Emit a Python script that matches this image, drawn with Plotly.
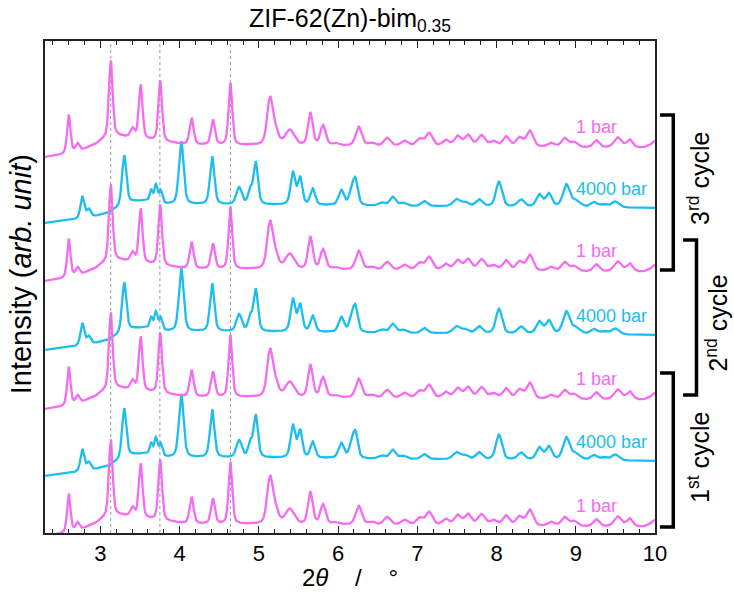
import numpy as np
import plotly.graph_objects as go

# ---- diffraction data: peak lists for the two pressure states ----
# 1 bar pattern: peak centre (2theta, deg), intensity (a.u.), FWHM (deg)
ONE_BAR_POS = [2.60, 2.71, 3.13, 3.405, 3.507, 3.754, 4.15, 4.42, 4.64, 5.14, 5.21,
               5.39, 5.65, 5.81, 5.97, 6.26, 6.42, 6.62, 6.84, 7.03, 7.15, 7.36,
               7.51, 7.64, 7.81, 7.96, 8.12, 8.29, 8.42, 8.69, 8.86, 8.98, 9.26,
               9.53, 9.68, 10.05]
ONE_BAR_INT = [38, 7, 77, 9, 54, 60, 27, 25, 62, 46, 12,
               15, 32, 20, 2, 19, 3, 8, 5, 7, 13, 6,
               10, 11, 11, 5, 10, 9, 16, 4, 9, 5, 7,
               10, 8, 6]
ONE_BAR_FWHM = [0.050, 0.050, 0.055, 0.060, 0.055, 0.055, 0.060, 0.060, 0.055, 0.085, 0.090,
                0.130, 0.070, 0.080, 0.090, 0.090, 0.100, 0.100, 0.110, 0.100, 0.100, 0.100,
                0.100, 0.100, 0.110, 0.100, 0.100, 0.100, 0.100, 0.100, 0.100, 0.100, 0.090,
                0.110, 0.090, 0.150]
# slowly varying background of the 1 bar pattern (2theta, a.u.)
ONE_BAR_BG_X = [2.30, 2.50, 2.80, 2.95, 3.05, 3.20, 3.60, 3.90, 4.10, 9.85, 10.00]
ONE_BAR_BG_Y = [-11, -9, -3, 2, 7, 10, 6, 3, 1, -2, 1]

# 4000 bar pattern
HP_POS = [2.77, 2.85, 3.30, 3.64, 3.70, 3.76, 4.02, 4.41, 4.75, 4.89, 4.96,
          5.43, 5.52, 5.68, 6.04, 6.17, 6.22, 6.55, 6.69, 6.82, 7.09, 7.49,
          7.60, 7.78, 8.03, 8.31, 8.54, 8.66, 8.88, 9.00, 9.23, 9.36, 9.50]
HP_INT = [22, 8, 50, 11, 17, 12, 63, 48, 17, 14, 42,
          32, 27, 16, 15, 14, 24, 3, 9, 3, 5, 7,
          4, 7, 25, 7, 12, 13, 22, 6, 5, 3, 6]
HP_FWHM = [0.055, 0.060, 0.065, 0.045, 0.045, 0.045, 0.070, 0.065, 0.080, 0.060, 0.065,
           0.070, 0.065, 0.070, 0.080, 0.070, 0.070, 0.090, 0.090, 0.090, 0.090, 0.100,
           0.100, 0.100, 0.090, 0.100, 0.090, 0.090, 0.100, 0.130, 0.100, 0.100, 0.110]
HP_BG_X = [2.30, 2.65, 2.95, 3.10, 3.20, 3.40, 3.55, 3.85, 5.30, 6.50, 10.00]
HP_BG_Y = [-17, -14, -10, -7, -3, 4, 5, 1.5, 1, 0, -2]

# stacked patterns, bottom to top
PATTERN_LABELS = ["1 bar", "4000 bar", "1 bar", "4000 bar", "1 bar", "4000 bar", "1 bar"]
PATTERN_OFFSETS = [8, 74, 135, 200, 263, 327, 387]

# reference positions marked with dotted lines
REF_LINES = [3.13, 3.75, 4.64]

# cycle brackets: (label, lower, upper, label centre) in intensity units
CYCLES = [("1<sup>st</sup> cycle", 6, 160, 76),
          ("2<sup>nd</sup> cycle", 138, 293, 210),
          ("3<sup>rd</sup> cycle", 263, 418, 355)]

X_RANGE = [2.3, 10.0]
Y_RANGE = [0, 492]

MAGENTA = "#F76BF2"
CYAN = "#1BBEF0"
FONT = "Liberation Sans, Arial, sans-serif"


def pseudo_voigt(x, centre, height, fwhm, eta=0.4):
    hw = fwhm / 2.0
    u = (x - centre) / hw
    lor = 1.0 / (1.0 + u ** 2)
    gau = np.exp(-np.log(2.0) * u ** 2)
    return height * (eta * lor + (1 - eta) * gau)


def pattern(x, pos, inten, fwhm, bgx, bgy):
    y = np.interp(x, bgx, bgy)
    for c, h, w in zip(pos, inten, fwhm):
        y = y + pseudo_voigt(x, c, h, w)
    return y


two_theta = np.arange(2.3, 10.0001, 0.004)
one_bar = pattern(two_theta, ONE_BAR_POS, ONE_BAR_INT, ONE_BAR_FWHM, ONE_BAR_BG_X, ONE_BAR_BG_Y)
high_p = pattern(two_theta, HP_POS, HP_INT, HP_FWHM, HP_BG_X, HP_BG_Y)

fig = go.Figure()

# high-pressure curves first so the 1 bar curves sit on top
order = [i for i, l in enumerate(PATTERN_LABELS) if l != "1 bar"] + \
        [i for i, l in enumerate(PATTERN_LABELS) if l == "1 bar"]
for i in order:
    is_amb = PATTERN_LABELS[i] == "1 bar"
    base = one_bar if is_amb else high_p
    fig.add_trace(go.Scatter(
        x=two_theta, y=base + PATTERN_OFFSETS[i], mode="lines",
        line=dict(color=MAGENTA if is_amb else CYAN, width=2.3),
        hoverinfo="skip", showlegend=False))

# pressure labels next to each curve
for lab, off in zip(PATTERN_LABELS, PATTERN_OFFSETS):
    is_amb = lab == "1 bar"
    fig.add_annotation(
        x=9.26 if is_amb else 9.45, y=off + (19 if is_amb else 17),
        text=lab, showarrow=False, xanchor="center", yanchor="middle",
        font=dict(family=FONT, size=18, color=MAGENTA if is_amb else CYAN))

# dotted reference lines
for xv in REF_LINES:
    fig.add_shape(type="line", xref="x", yref="paper", x0=xv, x1=xv, y0=0, y1=1,
                  line=dict(color="#9a9a9a", width=1, dash="dot"), layer="above")


def to_paper(v):
    return (v - Y_RANGE[0]) / (Y_RANGE[1] - Y_RANGE[0])


# brackets grouping each compression/decompression cycle
bracket_x = {"1": (1.008, 1.030), "2": (1.046, 1.068), "3": (1.008, 1.030)}
label_x = {"1": 1.072, "2": 1.101, "3": 1.072}
for lab, lo, hi, mid in CYCLES:
    k = lab[0]
    xa, xb = bracket_x[k]
    y0, y1 = to_paper(lo), to_paper(hi)
    fig.add_shape(type="path", xref="paper", yref="paper",
                  path=f"M {xa},{y1} L {xb},{y1} L {xb},{y0} L {xa},{y0}",
                  line=dict(color="black", width=3.5))
    fig.add_annotation(xref="paper", yref="paper", x=label_x[k], y=to_paper(mid),
                       text=lab, textangle=-90, showarrow=False,
                       xanchor="center", yanchor="middle",
                       font=dict(family=FONT, size=25, color="black"))

# axis titles
fig.add_annotation(xref="paper", yref="paper", x=0.5, y=-0.091,
                   text="2<i>θ</i>    /    °", showarrow=False,
                   xanchor="center", yanchor="middle",
                   font=dict(family=FONT, size=24, color="black"))
fig.add_annotation(xref="paper", yref="paper", x=-0.040, y=0.525,
                   text="Intensity (<i>arb. unit</i>)", textangle=-90, showarrow=False,
                   xanchor="center", yanchor="middle",
                   font=dict(family=FONT, size=29, color="black"))

fig.update_layout(
    width=734, height=593,
    margin=dict(l=45, r=79, t=41, b=60),
    paper_bgcolor="white", plot_bgcolor="white",
    title=dict(text="ZIF-62(Zn)-bim<sub>0.35</sub>", x=0.5, xref="paper",
               y=1 - 18 / 593, yref="container", xanchor="center", yanchor="middle",
               font=dict(family=FONT, size=25, color="black")),
    font=dict(family=FONT, color="black"),
)
fig.update_xaxes(
    range=X_RANGE, showgrid=False, zeroline=False,
    showline=True, linecolor="#222", linewidth=1.5, mirror="ticks",
    ticks="inside", ticklen=7, tickwidth=1.2, tickcolor="#222",
    dtick=1, tick0=0, tickfont=dict(family=FONT, size=22, color="black"),
    minor=dict(ticks="inside", ticklen=4, tickwidth=1, tickcolor="#222", dtick=0.2, tick0=0),
)
fig.update_yaxes(
    range=Y_RANGE, showgrid=False, zeroline=False,
    showline=True, linecolor="#222", linewidth=1.5, mirror=True,
    ticks="", showticklabels=False,
)

fig.write_html("out.html")
